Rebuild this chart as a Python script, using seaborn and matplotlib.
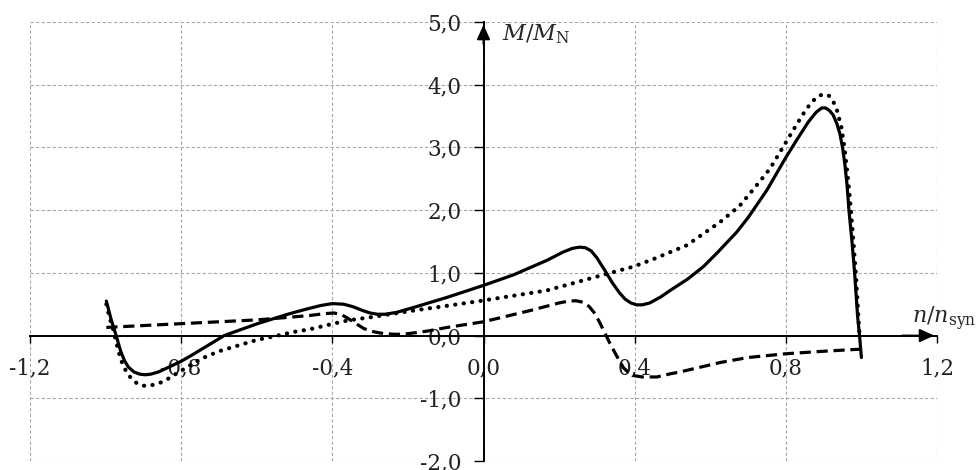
import numpy as np
import pandas as pd
import matplotlib
matplotlib.use('Agg')
import matplotlib.pyplot as plt
from matplotlib.ticker import FuncFormatter
import seaborn as sns

# curve data (n/n_syn, M/M_N)
solid_n = [-0.998, -0.985, -0.972, -0.96, -0.95, -0.94, -0.925, -0.91, -0.895, -0.88,
           -0.86, -0.835, -0.80, -0.774, -0.73, -0.686, -0.64, -0.598, -0.518, -0.47,
           -0.43, -0.40, -0.37, -0.345, -0.32, -0.30, -0.28, -0.26, -0.23, -0.184,
           -0.096, 0.0, 0.08, 0.168, 0.21, 0.235, 0.255, 0.27, 0.285, 0.30,
           0.32, 0.34, 0.36, 0.375, 0.39, 0.405, 0.42, 0.44, 0.47, 0.494,
           0.54, 0.582, 0.62, 0.67, 0.70, 0.75, 0.80, 0.83, 0.86, 0.88,
           0.895, 0.905, 0.915, 0.925, 0.935, 0.943, 0.95, 0.956, 0.962, 0.967,
           0.975, 0.982, 0.99, 0.995, 1.0]
solid_m = [0.55, 0.25, 0.0, -0.25, -0.40, -0.50, -0.58, -0.615, -0.625, -0.615,
           -0.58, -0.51, -0.41, -0.32, -0.16, 0.0, 0.10, 0.19, 0.34, 0.42,
           0.48, 0.51, 0.50, 0.46, 0.40, 0.36, 0.34, 0.34, 0.37, 0.45,
           0.61, 0.80, 0.97, 1.20, 1.33, 1.39, 1.41, 1.40, 1.35, 1.24,
           1.05, 0.85, 0.68, 0.58, 0.52, 0.49, 0.49, 0.52, 0.62, 0.72,
           0.90, 1.10, 1.33, 1.65, 1.88, 2.32, 2.84, 3.13, 3.41, 3.56,
           3.63, 3.63, 3.59, 3.52, 3.38, 3.22, 3.00, 2.74, 2.40, 2.00,
           1.50, 1.00, 0.30, 0.0, -0.35]

dot_n = [-0.998, -0.99, -0.98, -0.97, -0.96, -0.945, -0.93, -0.915, -0.90, -0.885,
         -0.87, -0.85, -0.835, -0.80, -0.747, -0.70, -0.65, -0.60, -0.545, -0.50,
         -0.46, -0.404, -0.36, -0.29, -0.184, -0.09, 0.0, 0.168, 0.30, 0.397,
         0.45, 0.538, 0.626, 0.678, 0.722, 0.758, 0.80, 0.83, 0.855, 0.875,
         0.89, 0.903, 0.915, 0.925, 0.935, 0.947, 0.955, 0.96, 0.967, 0.973,
         0.98, 0.985, 0.995]
dot_m = [0.50, 0.30, 0.10, -0.15, -0.38, -0.58, -0.70, -0.77, -0.80, -0.80,
         -0.78, -0.74, -0.69, -0.56, -0.37, -0.25, -0.16, -0.07, 0.0, 0.06,
         0.10, 0.18, 0.24, 0.30, 0.40, 0.48, 0.56, 0.72, 0.94, 1.10,
         1.22, 1.44, 1.81, 2.07, 2.39, 2.66, 3.08, 3.38, 3.62, 3.76,
         3.83, 3.85, 3.82, 3.74, 3.60, 3.32, 3.00, 2.74, 2.35, 1.94,
         1.40, 1.00, 0.0]

dash_n = [-0.998, -0.8, -0.6, -0.518, -0.46, -0.42, -0.395, -0.375, -0.36, -0.34,
          -0.316, -0.29, -0.263, -0.23, -0.20, -0.15, -0.096, 0.0, 0.124, 0.20,
          0.225, 0.245, 0.265, 0.28, 0.295, 0.309, 0.322, 0.335, 0.352, 0.37,
          0.385, 0.40, 0.42, 0.459, 0.494, 0.52, 0.626, 0.70, 0.80, 0.90,
          0.987, 1.0]
dash_m = [0.13, 0.19, 0.25, 0.29, 0.32, 0.35, 0.36, 0.33, 0.28, 0.20,
          0.11, 0.06, 0.03, 0.02, 0.03, 0.07, 0.13, 0.22, 0.40, 0.52,
          0.55, 0.555, 0.53, 0.46, 0.35, 0.19, 0.03, -0.13, -0.32, -0.51,
          -0.60, -0.64, -0.66, -0.66, -0.61, -0.58, -0.43, -0.35, -0.29, -0.25,
          -0.22, -0.22]

x_ticks = [-1.2, -0.8, -0.4, 0.0, 0.4, 0.8, 1.2]
y_ticks = [-2.0, -1.0, 0.0, 1.0, 2.0, 3.0, 4.0, 5.0]

sns.set_style('white')
plt.rcParams['font.family'] = ['DejaVu Serif']
plt.rcParams['mathtext.fontset'] = 'dejavuserif'
plt.rcParams['axes.unicode_minus'] = False

fig = plt.figure(figsize=(9.8, 4.7), dpi=100)
ax = fig.add_axes([30 / 980, 9 / 470, 907 / 980, 439 / 470])

sns.lineplot(x=solid_n, y=solid_m, ax=ax, color='black', lw=2.3,
             estimator=None, sort=False, solid_joinstyle='round')
sns.lineplot(x=dot_n, y=dot_m, ax=ax, color='black', lw=3.0,
             estimator=None, sort=False, linestyle=(0, (0.05, 2.0)),
             dash_capstyle='round')
sns.lineplot(x=dash_n, y=dash_m, ax=ax, color='black', lw=2.3,
             estimator=None, sort=False, linestyle=(0, (3.5, 1.8)),
             dash_joinstyle='round')

ax.set_xlim(-1.2, 1.2)
ax.set_ylim(-2.0, 5.0)
ax.set_xticks(x_ticks)
ax.set_yticks(y_ticks)
fmt = FuncFormatter(lambda v, p: f'{v:.1f}'.replace('.', ','))
ax.xaxis.set_major_formatter(fmt)
ax.yaxis.set_major_formatter(fmt)

ax.grid(True, color='#a8a8a8', linestyle=(0, (3, 2)), lw=0.8)
for gl in ax.get_xgridlines() + ax.get_ygridlines():
    gl.set_clip_on(False)
ax.set_axisbelow(True)

for s in ['top', 'right']:
    ax.spines[s].set_visible(False)
ax.spines['left'].set_position(('data', 0))
ax.spines['bottom'].set_position(('data', 0))
for s in ['left', 'bottom']:
    ax.spines[s].set_linewidth(1.4)
    ax.spines[s].set_color('black')

ax.tick_params(axis='x', direction='out', length=5, width=1, pad=11,
               labelsize=15.5, colors='black', bottom=True)
ax.tick_params(axis='y', direction='out', length=7, width=1, pad=9,
               labelsize=15.5, colors='black', left=True)
ax.tick_params(labelcolor='#222222')

# axis arrows
arrow = dict(arrowstyle='-|>,head_width=0.25,head_length=0.55',
             color='black', lw=1.4, mutation_scale=16)
ax.annotate('', xy=(0, 5.0), xytext=(0, 4.6), arrowprops=arrow,
            annotation_clip=False)
ax.annotate('', xy=(1.2, 0), xytext=(1.1, 0), arrowprops=arrow,
            annotation_clip=False)

ax.text(0.05, 4.70, r'$M/M_\mathrm{N}$', fontsize=16, va='baseline',
        ha='left', clip_on=False)
ax.text(1.133, 0.19, r'$n/n_\mathrm{syn}$', fontsize=16, va='baseline',
        ha='left', clip_on=False)

fig.savefig('out.png', dpi=100)
